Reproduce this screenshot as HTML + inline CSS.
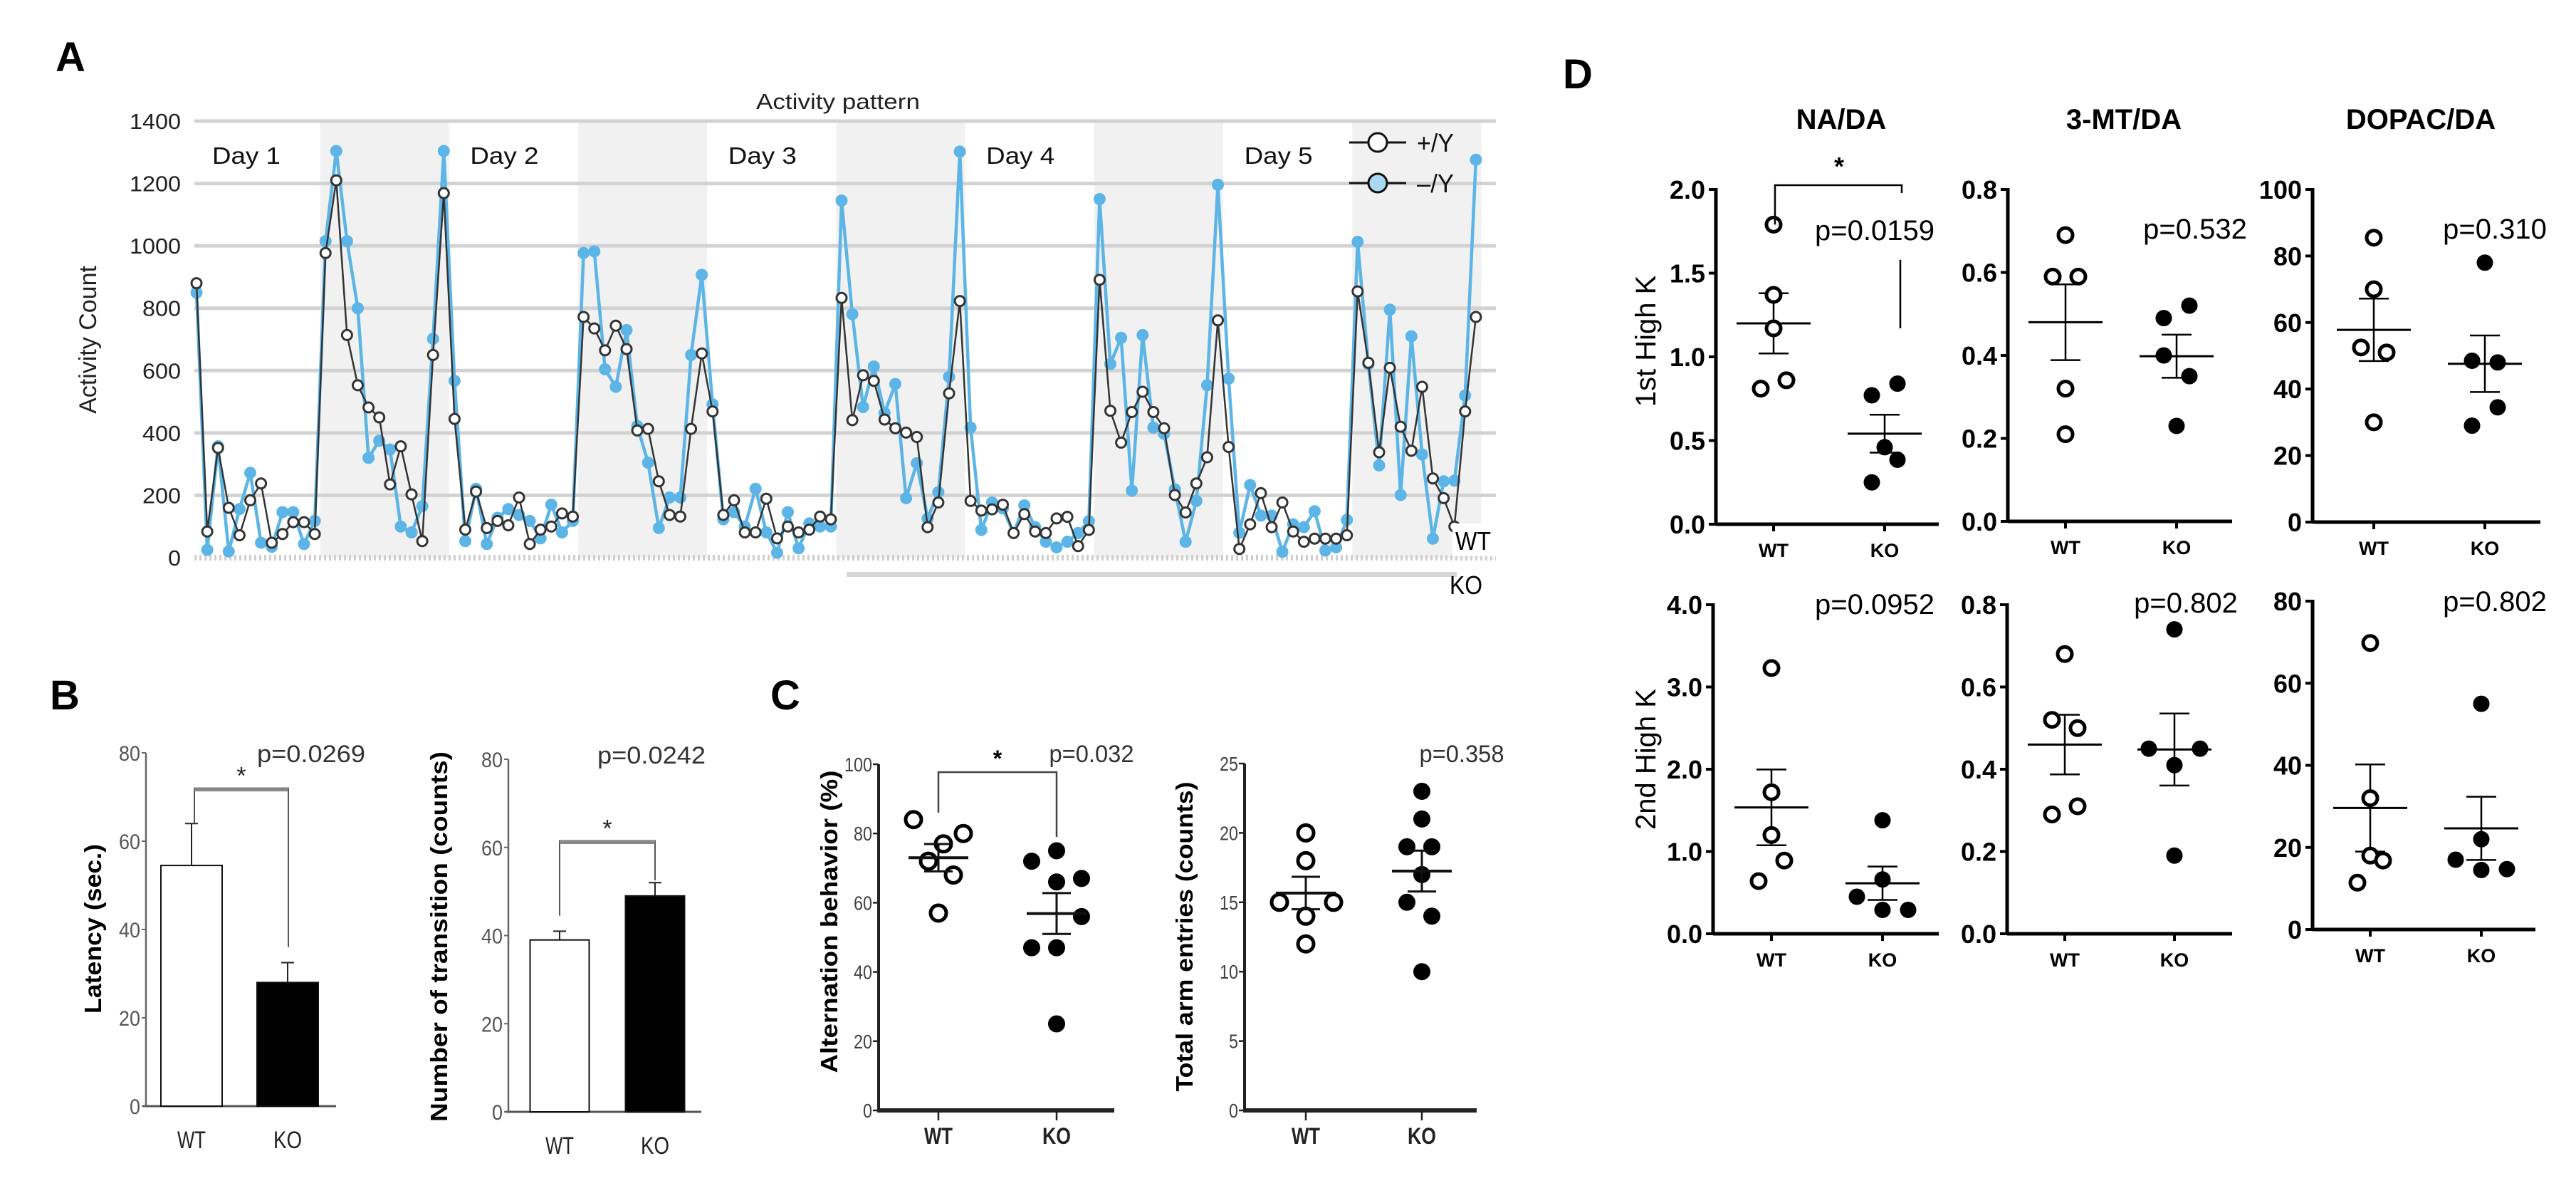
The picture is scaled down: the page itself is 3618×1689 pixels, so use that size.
<!DOCTYPE html>
<html><head><meta charset="utf-8"><title>Figure</title>
<style>
html,body{margin:0;padding:0;background:#fff;}
svg{display:block;font-family:"Liberation Sans",Arial,sans-serif;}
</style></head>
<body>
<svg id="fig" xmlns="http://www.w3.org/2000/svg" width="3618" height="1689" viewBox="0 0 3618 1689">
<rect x="0" y="0" width="3618" height="1689" fill="#fff"/>
<!-- Panel letters -->
<text x="78" y="100" font-size="58" font-weight="bold">A</text>
<text x="70" y="996" font-size="58" font-weight="bold">B</text>
<text x="1082" y="996" font-size="58" font-weight="bold">C</text>
<text x="2195" y="124" font-size="58" font-weight="bold">D</text>
<!-- Panel A static text -->
<text x="1177" y="153" font-size="31" text-anchor="middle" fill="#222" textLength="230" lengthAdjust="spacingAndGlyphs">Activity pattern</text>
<text x="0" y="0" font-size="34" text-anchor="middle" fill="#222" transform="translate(135,477) rotate(-90)">Activity Count</text>
<!-- Panel B/C axis titles -->
<text x="0" y="0" font-size="33" font-weight="bold" text-anchor="middle" textLength="238" lengthAdjust="spacingAndGlyphs" transform="translate(142,1304) rotate(-90)">Latency (sec.)</text>
<text x="0" y="0" font-size="33" font-weight="bold" text-anchor="middle" textLength="520" lengthAdjust="spacingAndGlyphs" transform="translate(628,1315) rotate(-90)">Number of transition (counts)</text>
<text x="0" y="0" font-size="33" font-weight="bold" text-anchor="middle" textLength="425" lengthAdjust="spacingAndGlyphs" transform="translate(1176,1294) rotate(-90)">Alternation behavior (%)</text>
<text x="0" y="0" font-size="33" font-weight="bold" text-anchor="middle" textLength="435" lengthAdjust="spacingAndGlyphs" transform="translate(1675,1315) rotate(-90)">Total arm entries (counts)</text>
<!-- Panel D titles -->
<text x="2586" y="181" font-size="40" font-weight="bold" text-anchor="middle">NA/DA</text>
<text x="2983" y="181" font-size="40" font-weight="bold" text-anchor="middle">3-MT/DA</text>
<text x="3400" y="181" font-size="40" font-weight="bold" text-anchor="middle">DOPAC/DA</text>
<text x="0" y="0" font-size="40" text-anchor="middle" transform="translate(2325,479) rotate(-90)">1st High K</text>
<text x="0" y="0" font-size="40" text-anchor="middle" transform="translate(2325,1066) rotate(-90)">2nd High K</text>
</svg>
<script>
// ---------- Panel A data ----------
const aTicks = [0,200,400,600,800,1000,1200,1400];
const dayLabels = ["Day 1","Day 2","Day 3","Day 4","Day 5"];
const wtActivity = [880,84,352,160,72,184,238,48,76,114,114,76,
 977,1210,714,553,482,450,235,357,203,53,650,1169,
 445,90,212,95,118,104,193,44,90,100,142,132,
 772,735,665,744,669,408,413,245,137,132,413,655,
 469,137,184,81,81,189,62,100,81,90,132,123,
 833,441,585,567,443,415,401,387,98,177,527,823,
 182,151,155,170,79,140,84,79,126,131,37,89,
 891,471,369,467,532,467,415,201,145,238,322,761,
 355,28,107,207,98,177,84,51,61,61,61,72,
 854,625,338,609,420,343,548,254,191,100,469,772];
const koActivity = [850,25,357,20,156,272,48,35,146,146,44,118,
 1015,1304,1015,800,320,375,347,100,81,165,702,1304,
 567,53,221,44,128,156,137,118,62,170,81,118,
 977,982,604,548,730,422,305,95,193,193,650,907,
 492,123,146,100,221,81,16,146,30,110,100,100,
 1145,781,483,613,464,557,191,303,126,210,580,1302,
 417,89,177,158,79,168,98,51,33,51,79,117,
 1150,621,705,215,714,417,397,219,51,182,553,1196,
 574,80,233,135,135,19,107,98,149,23,33,121,
 1013,621,296,795,201,710,331,61,245,247,520,1276];
// ---------- Panel B data ----------
const bGroups = ["WT","KO"];
const latencyMeans = [54.5,28];
const latencySem = [9.5,4.5];
const latencyTicks = [0,20,40,60,80];
const transitionMeans = [39,49];
const transitionSem = [2,3];
const transitionTicks = [0,20,40,60,80];
// ---------- Panel C data ----------
const altWt = [84,80,77,72,68,57];
const altKo = [75,72,67,66,56,47,47,25];
const altTicks = [0,20,40,60,80,100];
const armWt = [20,18,15,15,14,12];
const armKo = [23,21,19,19,17,15,14,10];
const armTicks = [0,5,10,15,20,25];
// ---------- Panel D data ----------
const naWt1 = [1.79,1.37,1.17,0.86,0.81];
const naKo1 = [0.84,0.77,0.46,0.385,0.25];
const mtWt1 = [0.69,0.59,0.59,0.32,0.21];
const mtKo1 = [0.52,0.49,0.40,0.35,0.23];
const dopWt1 = [85.5,70,52.5,51,30];
const dopKo1 = [78,48.5,48,34.5,29];
const naWt2 = [3.23,1.72,1.2,0.89,0.64];
const naKo2 = [1.38,0.66,0.45,0.29,0.29];
const mtWt2 = [0.68,0.52,0.50,0.31,0.29];
const mtKo2 = [0.74,0.45,0.45,0.41,0.19];
const dopWt2 = [69.8,32,18,16.8,11.4];
const dopKo2 = [55,22,17,14.5,14.7];
const naTicks1 = [0,0.5,1.0,1.5,2.0];
const naTicks2 = [0,1,2,3,4];
const mtTicks = [0,0.2,0.4,0.6,0.8];
const dopTicks1 = [0,20,40,60,80,100];
const dopTicks2 = [0,20,40,60,80];
const pValuesD = ["p=0.0159","p=0.532","p=0.310","p=0.0952","p=0.802","p=0.802"];

const NS = "http://www.w3.org/2000/svg";
const svg = document.getElementById('fig');
function mk(tag, attrs, parent){
  const e = document.createElementNS(NS, tag);
  for (const k in attrs) e.setAttribute(k, attrs[k]);
  (parent || svg).appendChild(e);
  return e;
}
function tx(str, attrs, parent){
  const e = mk('text', attrs, parent);
  e.textContent = str;
  return e;
}
function stats(a){
  const n = a.length, m = a.reduce((s,v)=>s+v,0)/n;
  const sd = Math.sqrt(a.reduce((s,v)=>s+(v-m)*(v-m),0)/(n-1));
  return [m, sd/Math.sqrt(n)];
}

// ================= PANEL A =================
const aX = i => 276 + i*15.1;
const aY = v => 783 - v*613/1400;
const gA = mk('g', {});


const plotBg = mk('rect', {x:273, y:aY(1400), width:1828, height:aY(0)-aY(1400), fill:'#fff'}, gA);


for (let k=0; k<dayLabels.length; k++){
  const x1 = aX(11.5+24*k), x2 = Math.min(aX(23.5+24*k), 2101);
  const band = mk('rect', {x:x1, y:aY(1400), width:x2-x1, height:aY(0)-aY(1400), fill:'#f1f1f1'}, gA);
  
  
  const dl = tx(dayLabels[k], {x:aX(24*k)+22, y:230, 'font-size':33, fill:'#111', textLength:96, lengthAdjust:'spacingAndGlyphs'}, gA);
  
  
}
aTicks.forEach(t=>{
  if (t>0){
    const gl = mk('line', {x1:273, x2:2101, y1:aY(t), y2:aY(t), stroke:'#d2d2d2', 'stroke-width':5}, gA);
    
    
  } else {
    const bl = mk('line', {x1:273, x2:2101, y1:aY(0), y2:aY(0), stroke:'#cfcfcf', 'stroke-width':8, 'stroke-dasharray':'3,4'}, gA);
    
    
  }
  const tl = tx(String(t), {x:254, y:aY(t)+11, 'font-size':31, 'text-anchor':'end', fill:'#222', textLength:String(t).length*18, lengthAdjust:'spacingAndGlyphs'}, gA);
  
  
});
function series(vals, lineColor, lw, markFill, markStroke, name){
  const pts = vals.map((v,i)=>aX(i)+','+aY(v)).join(' ');
  const pl = mk('polyline', {points:pts, fill:'none', stroke:lineColor, 'stroke-width':lw, 'stroke-linejoin':'round'}, gA);
  
  
  vals.forEach((v,i)=>{
    const c = mk('circle', {cx:aX(i), cy:aY(v), r:7, fill:markFill, stroke:markStroke, 'stroke-width':3}, gA);
    
    
  });
}
series(koActivity, '#5cb5e6', 4.5, '#5cb5e6', '#5cb5e6', 'ko-activity');
series(wtActivity, '#333', 2.5, '#fff', '#333', 'wt-activity');
// legend
const lg = mk('g', {}, gA);


[[200,'#fff','+/Y'],[257,'#a8d8f2','\u2013/Y']].forEach(r=>{
  const ll = mk('line', {x1:1895, x2:1975, y1:r[0], y2:r[0], stroke:'#111', 'stroke-width':3}, lg);
  
  
  const lc = mk('circle', {cx:1935, cy:r[0], r:13, fill:r[1], stroke:'#111', 'stroke-width':3}, lg);
  
  
  const lt = tx(r[2], {x:1990, y:r[0]+13, 'font-size':36, fill:'#111', textLength:52, lengthAdjust:'spacingAndGlyphs'}, lg);
  
  
});
const koBar = mk('rect', {x:1189, y:803, width:857, height:7, fill:'#d6d6d6'}, gA);


const wtBox = mk('rect', {x:2040, y:735, width:62, height:46, fill:'#fff'}, gA);


const wtL = tx('WT', {x:2044, y:772, 'font-size':36, fill:'#000', textLength:50, lengthAdjust:'spacingAndGlyphs'}, gA);


const koL = tx('KO', {x:2036, y:834, 'font-size':36, fill:'#000', textLength:46, lengthAdjust:'spacingAndGlyphs'}, gA);



// ================= PANEL B =================
function barPanel(cfg){
  const g = mk('g', {});
  
  
  const Y = v => cfg.y0 - v*cfg.ppu;
  const ax = mk('line', {x1:cfg.ax, x2:cfg.ax, y1:Y(cfg.ticks[cfg.ticks.length-1]), y2:Y(0), stroke:'#666', 'stroke-width':2.5}, g);
  
  
  const bx = mk('line', {x1:cfg.ax-4, x2:cfg.xEnd, y1:Y(0), y2:Y(0), stroke:'#555', 'stroke-width':3}, g);
  
  
  cfg.ticks.forEach(t=>{
    const tm = mk('line', {x1:cfg.ax-6, x2:cfg.ax, y1:Y(t), y2:Y(t), stroke:'#666', 'stroke-width':2}, g);
    
    
    const tl = tx(String(t), {x:cfg.ax-8, y:Y(t)+11, 'font-size':30, 'text-anchor':'end', fill:'#555', textLength:String(t).length*15, lengthAdjust:'spacingAndGlyphs'}, g);
    
    
  });
  cfg.means.forEach((m,i)=>{
    const cx = cfg.cx[i];
    const er = mk('line', {x1:cx, x2:cx, y1:Y(m), y2:Y(m+cfg.sem[i]), stroke:'#222', 'stroke-width':2}, g);
    
    
    const ec = mk('line', {x1:cx-9, x2:cx+9, y1:Y(m+cfg.sem[i]), y2:Y(m+cfg.sem[i]), stroke:'#222', 'stroke-width':2}, g);
    
    
    if (i===0){
      const el = mk('line', {x1:cx, x2:cx, y1:Y(m), y2:Y(m-cfg.sem[i]), stroke:'#222', 'stroke-width':2}, g);
      
      
      const ec2 = mk('line', {x1:cx-9, x2:cx+9, y1:Y(m-cfg.sem[i]), y2:Y(m-cfg.sem[i]), stroke:'#222', 'stroke-width':2}, g);
      
      
    }
    const b = mk('rect', {x:cx-cfg.bw/2, y:Y(m), width:cfg.bw, height:Y(0)-Y(m), fill:i===0?'#fff':'#000', stroke:'#111', 'stroke-width':2}, g);
    
    
    const xl = tx(bGroups[i], {x:cx, y:cfg.labY, 'font-size':34, 'text-anchor':'middle', fill:'#222', textLength:bGroups[i]==='WT'?40:40, lengthAdjust:'spacingAndGlyphs'}, g);
    
    
  });
  const br = cfg.br;
  const bp = mk('path', {d:`M${cfg.brX[0]},${Y(br[1])} V${Y(br[0])} H${cfg.brX[1]} V${Y(br[2])}`, fill:'none', stroke:'#555', 'stroke-width':2}, g);
  
  
  const bt = mk('line', {x1:cfg.brX[0], x2:cfg.brX[1], y1:Y(br[0])+2, y2:Y(br[0])+2, stroke:'#888', 'stroke-width':5}, g);
  
  
  const st = tx('*', {x:(cfg.brX[0]+cfg.brX[1])/2, y:Y(br[0])-6, 'font-size':34, 'text-anchor':'middle', fill:'#222'}, g);
  
  
  const pv = tx(cfg.p, {x:cfg.pX, y:cfg.pY, 'font-size':34, 'text-anchor':'middle', fill:'#333', textLength:152, lengthAdjust:'spacingAndGlyphs'}, g);
  
  
}
barPanel({name:'latency-bar-chart', ax:205, xEnd:472, y0:1553, ppu:496/80, ticks:latencyTicks, means:latencyMeans, sem:latencySem,
  cx:[269,404], bw:86, labY:1612, br:[72,64,36], brX:[273,405], p:'p=0.0269', pX:437, pY:1070});
barPanel({name:'transition-bar-chart', ax:714, xEnd:985, y0:1561, ppu:495/80, ticks:transitionTicks, means:transitionMeans, sem:transitionSem,
  cx:[786,920], bw:83, labY:1620, br:[61.5,44.5,52.5], brX:[786,920], p:'p=0.0242', pX:915, pY:1072});

// ================= PANEL C =================
function dotPanelC(cfg){
  const g = mk('g', {});
  
  
  const Y = v => cfg.y0 - v*cfg.ppu;
  const top = cfg.ticks[cfg.ticks.length-1];
  const ax = mk('line', {x1:cfg.ax, x2:cfg.ax, y1:Y(top), y2:Y(0)+3, stroke:'#222', 'stroke-width':4}, g);
  
  
  const bx = mk('line', {x1:cfg.ax, x2:cfg.xEnd, y1:Y(0), y2:Y(0), stroke:'#222', 'stroke-width':6}, g);
  
  
  cfg.ticks.forEach(t=>{
    const tm = mk('line', {x1:cfg.ax-8, x2:cfg.ax, y1:Y(t), y2:Y(t), stroke:'#222', 'stroke-width':2.5}, g);
    
    
    const tl = tx(String(t), {x:cfg.ax-9, y:Y(t)+10, 'font-size':28, 'text-anchor':'end', fill:'#444', textLength:String(t).length*13, lengthAdjust:'spacingAndGlyphs'}, g);
    
    
  });
  [cfg.wt, cfg.ko].forEach((arr,gi)=>{
    const cx = cfg.cx[gi];
    const xt = mk('line', {x1:cx, x2:cx, y1:Y(0), y2:Y(0)+14, stroke:'#222', 'stroke-width':2.5}, g);
    
    
    const xl = tx(bGroups[gi], {x:cx, y:cfg.labY, 'font-size':32, 'font-weight':'bold', 'text-anchor':'middle', fill:'#222', textLength:40, lengthAdjust:'spacingAndGlyphs'}, g);
    
    
    const jit = gi===0 ? cfg.jWt : cfg.jKo;
    arr.forEach((v,i)=>{
      const c = mk('circle', {cx:cx+jit[i], cy:Y(v), r:11, fill:gi===0?'#fff':'#000', stroke:'#000', 'stroke-width':gi===0?5:2}, g);
      
      
    });
    const [m,se] = stats(arr);
    const ml = mk('line', {x1:cx-42, x2:cx+42, y1:Y(m), y2:Y(m), stroke:'#111', 'stroke-width':4}, g);
    
    
    const sl = mk('path', {d:`M${cx-20},${Y(m+se)} H${cx+20} M${cx},${Y(m+se)} V${Y(m-se)} M${cx-20},${Y(m-se)} H${cx+20}`, fill:'none', stroke:'#111', 'stroke-width':3}, g);
    
    
  });
  if (cfg.br){
    const bp = mk('path', {d:`M${cfg.cx[0]},${Y(cfg.br[1])} V${Y(cfg.br[0])} H${cfg.cx[1]} V${Y(cfg.br[2])}`, fill:'none', stroke:'#444', 'stroke-width':2.5}, g);
    
    
    const st = tx('*', {x:(cfg.cx[0]+cfg.cx[1])/2, y:Y(cfg.br[0])-8, 'font-size':32, 'font-weight':'bold', 'text-anchor':'middle'}, g);
    
    
  }
  const pv = tx(cfg.p, {x:cfg.pX, y:1070, 'font-size':34, 'text-anchor':'middle', fill:'#333', textLength:cfg.p.length*17, lengthAdjust:'spacingAndGlyphs'}, g);
  
  
}
dotPanelC({name:'alternation-dot-plot', ax:1234, xEnd:1565, y0:1559, ppu:486/100, ticks:altTicks, wt:altWt, ko:altKo,
  cx:[1318,1484], jWt:[-35,35,7,-14,21,0], jKo:[0,-35,35,0,35,-35,0,0], labY:1606, br:[97.7,86,79], p:'p=0.032', pX:1533});
dotPanelC({name:'arm-entries-dot-plot', ax:1748, xEnd:2074, y0:1559, ppu:487/25, ticks:armTicks, wt:armWt, ko:armKo,
  cx:[1834,1997], jWt:[0,0,-37,39,0,0], jKo:[0,0,-21,14,0,-21,14,0], labY:1606, br:null, p:'p=0.358', pX:2053});

// ================= PANEL D =================
function fmt(t, dec){ return dec===0 ? String(t) : t.toFixed(dec); }
function dotPanelD(cfg){
  const g = mk('g', {});
  
  
  const top = cfg.ticks[cfg.ticks.length-1];
  const Y = v => cfg.y0 - v*(cfg.y0-cfg.yTop)/top;
  const ax = mk('line', {x1:cfg.ax, x2:cfg.ax, y1:cfg.yTop-2, y2:cfg.y0+2, stroke:'#000', 'stroke-width':5}, g);
  
  
  const bx = mk('line', {x1:cfg.ax, x2:cfg.xEnd, y1:cfg.y0, y2:cfg.y0, stroke:'#000', 'stroke-width':5}, g);
  
  
  cfg.ticks.forEach(t=>{
    const tm = mk('line', {x1:cfg.ax-10, x2:cfg.ax, y1:Y(t), y2:Y(t), stroke:'#000', 'stroke-width':4}, g);
    
    
    const tl = tx(fmt(t, t===0 && cfg.dec===0 ? 0 : cfg.dec), {x:cfg.ax-15, y:Y(t)+13, 'font-size':36, 'font-weight':'bold', 'text-anchor':'end'}, g);
    
    
  });
  [cfg.wt, cfg.ko].forEach((arr,gi)=>{
    const cx = cfg.cx[gi];
    const xt = mk('line', {x1:cx, x2:cx, y1:cfg.y0, y2:cfg.y0+10, stroke:'#000', 'stroke-width':4}, g);
    
    
    const xl = tx(bGroups[gi], {x:cx, y:cfg.y0+46, 'font-size':27, 'font-weight':'bold', 'text-anchor':'middle'}, g);
    
    
    const [m,se] = stats(arr);
    const ml = mk('line', {x1:cx-52, x2:cx+52, y1:Y(m), y2:Y(m), stroke:'#000', 'stroke-width':3}, g);
    
    
    const sl = mk('path', {d:`M${cx-21},${Y(m+se)} H${cx+21} M${cx},${Y(m+se)} V${Y(m-se)} M${cx-21},${Y(m-se)} H${cx+21}`, fill:'none', stroke:'#000', 'stroke-width':2.5}, g);
    
    
    const jit = gi===0 ? cfg.jWt : cfg.jKo;
    arr.forEach((v,i)=>{
      const c = mk('circle', {cx:cx+jit[i]*18, cy:Y(v), r:gi===0?10:11, fill:gi===0?'#fff':'#000', stroke:'#000', 'stroke-width':gi===0?5:1}, g);
      
      
    });
  });
  const pv = tx(cfg.p, {x:cfg.pX, y:cfg.pY, 'font-size':40, 'text-anchor':'middle'}, g);
  
  
  if (cfg.sig){
    const bp = mk('path', {d:`M${cfg.cx[0]+2},${cfg.y0-(cfg.y0-cfg.yTop)*0.895} V${cfg.yTop-6} H${cfg.cx[1]+24} V${cfg.yTop+5}`, fill:'none', stroke:'#000', 'stroke-width':2.5}, g);
    
    
    const st = tx('*', {x:(cfg.cx[0]+cfg.cx[1])/2+14, y:cfg.yTop-20, 'font-size':36, 'font-weight':'bold', 'text-anchor':'middle'}, g);
    
    
    const vl = mk('line', {x1:cfg.cx[1]+22, x2:cfg.cx[1]+22, y1:Y(1.58), y2:Y(1.17), stroke:'#000', 'stroke-width':2.5}, g);
    
    
  }
}
dotPanelD({name:'na-da-1st-plot', ax:2410, xEnd:2723, y0:736, yTop:266, ticks:naTicks1, dec:1, wt:naWt1, ko:naKo1, cx:[2491,2647], jWt:[0,0,0,1,-1], jKo:[1,-1,0,1,-1], p:pValuesD[0], pX:2633, pY:337, sig:true});
dotPanelD({name:'3mt-da-1st-plot', ax:2820, xEnd:3135, y0:732, yTop:266, ticks:mtTicks, dec:1, wt:mtWt1, ko:mtKo1, cx:[2901,3057], jWt:[0,-1,1,0,0], jKo:[1,-1,-1,1,0], p:pValuesD[1], pX:3083, pY:335});
dotPanelD({name:'dopac-da-1st-plot', ax:3248, xEnd:3568, y0:733, yTop:266, ticks:dopTicks1, dec:0, wt:dopWt1, ko:dopKo1, cx:[3334,3490], jWt:[0,0,-1,1,0], jKo:[0,-1,1,1,-1], p:pValuesD[2], pX:3504, pY:335});
dotPanelD({name:'na-da-2nd-plot', ax:2406, xEnd:2723, y0:1311, yTop:849, ticks:naTicks2, dec:1, wt:naWt2, ko:naKo2, cx:[2488,2644], jWt:[0,0,0,1,-1], jKo:[0,0,-2,0,2], p:pValuesD[3], pX:2633, pY:862});
dotPanelD({name:'3mt-da-2nd-plot', ax:2819, xEnd:3135, y0:1311, yTop:849, ticks:mtTicks, dec:1, wt:mtWt2, ko:mtKo2, cx:[2900,3054], jWt:[0,-1,1,1,-1], jKo:[0,-2,2,0,0], p:pValuesD[4], pX:3070, pY:860});
dotPanelD({name:'dopac-da-2nd-plot', ax:3248, xEnd:3561, y0:1305, yTop:844, ticks:dopTicks2, dec:0, wt:dopWt2, ko:dopKo2, cx:[3329,3485], jWt:[0,0,0,1,-1], jKo:[0,0,-2,0,2], p:pValuesD[5], pX:3504, pY:858});
</script>
</body></html>
